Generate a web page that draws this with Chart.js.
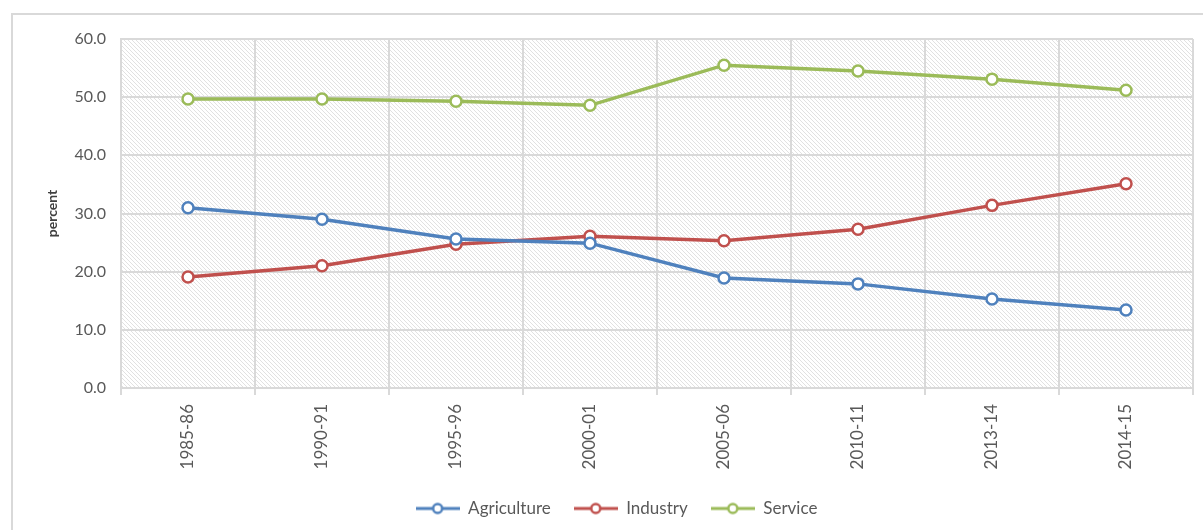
<!DOCTYPE html>
<html>
<head>
<meta charset="utf-8">
<script src="https://cdn.jsdelivr.net/npm/chart.js@4"></script>
<style>
  html, body { margin: 0; padding: 0; background: #fff; }
  #wrap { width: 1203px; height: 530px; }
</style>
</head>
<body>
<div id="wrap"><canvas id="sectorChart" width="1203" height="530"></canvas></div>
<script>
// Données
const periods = ["1985-86", "1990-91", "1995-96", "2000-01", "2005-06", "2010-11", "2013-14", "2014-15"];
const agriculture = [31.0, 29.0, 25.6, 24.9, 18.9, 17.9, 15.3, 13.4];
const industry = [19.1, 21.0, 24.7, 26.1, 25.3, 27.3, 31.4, 35.1];
const service = [49.7, 49.7, 49.3, 48.6, 55.5, 54.5, 53.1, 51.2];
const yTicks = [0, 10, 20, 30, 40, 50, 60];

const FONT = "Lato, 'Open Sans', sans-serif";

// motif hachuré du fond
function hatch() {
    const c = document.createElement("canvas");
    c.width = 4; c.height = 4;
    const g = c.getContext("2d");
    g.strokeStyle = "#e1e1e1";
    g.lineWidth = 1;
    g.beginPath();
    g.moveTo(-1, -1); g.lineTo(5, 5);
    g.moveTo(-1, 3); g.lineTo(1, 5);
    g.moveTo(3, -1); g.lineTo(5, 1);
    g.stroke();
    return g.createPattern(c, "repeat");
}

// icône de légende : trait + rond
function legendIcon(color) {
    const c = document.createElement("canvas");
    c.width = 44; c.height = 14;
    const g = c.getContext("2d");
    g.strokeStyle = color;
    g.lineWidth = 3;
    g.beginPath(); g.moveTo(0, 7); g.lineTo(44, 7); g.stroke();
    g.fillStyle = "#fff";
    g.lineWidth = 2.5;
    g.beginPath(); g.arc(22, 7, 4.5, 0, Math.PI * 2); g.fill(); g.stroke();
    return c;
}

const colors = ["#4F81BD", "#C0504D", "#9BBB59"];

const bgPlugin = {
    id: "bg",
    beforeDraw(chart) {
        const { ctx, chartArea: a } = chart;
        ctx.save();
        ctx.strokeStyle = "#d9d9d9";
        ctx.lineWidth = 2;
        ctx.strokeRect(12, 14, 1300, 600);
        ctx.fillStyle = hatch();
        ctx.fillRect(a.left, a.top, a.right - a.left, a.bottom - a.top);
        ctx.restore();
    }
};

function ds(label, data, i) {
    return {
        label: label,
        data: data,
        borderColor: colors[i],
        backgroundColor: "#fff",
        borderWidth: 3.5,
        pointRadius: 5.5,
        pointBorderWidth: 2.5,
        pointBackgroundColor: "#fff",
        pointStyle: "circle",
        tension: 0
    };
}

const icons = colors.map(legendIcon);

new Chart(document.getElementById("sectorChart"), {
    type: "line",
    data: {
        labels: periods,
        datasets: [ds("Agriculture", agriculture, 0), ds("Industry", industry, 1), ds("Service", service, 2)]
    },
    options: {
        responsive: false,
        animation: false,
        layout: { padding: { left: 40, top: 39, right: 10, bottom: 3 } },
        plugins: {
            tooltip: { enabled: false },
            legend: {
                position: "bottom",
                labels: {
                    color: "#595959",
                    font: { family: FONT, size: 17 },
                    usePointStyle: true,
                    pointStyleWidth: 44,
                    padding: 23,
                    generateLabels(chart) {
                        return chart.data.datasets.map((d, i) => ({
                            text: d.label,
                            fontColor: "#595959",
                            pointStyle: icons[i],
                            datasetIndex: i,
                            lineWidth: 0,
                            hidden: false
                        }));
                    }
                }
            }
        },
        scales: {
            x: {
                offset: true,
                grid: { offset: true, color: "#d9d9d9", lineWidth: 2, tickLength: 7, drawTicks: true },
                border: { color: "#d9d9d9", width: 2 },
                ticks: {
                    color: "#595959",
                    font: { family: FONT, size: 17 },
                    minRotation: 90,
                    maxRotation: 90,
                    padding: 9
                },
                afterFit(s) { s.height = 89; }
            },
            y: {
                min: 0,
                max: 60,
                afterBuildTicks(s) { s.ticks = yTicks.map(v => ({ value: v })); },
                grid: { color: "#d9d9d9", lineWidth: 2, drawTicks: false },
                border: { color: "#d9d9d9", width: 2 },
                ticks: {
                    color: "#595959",
                    font: { family: FONT, size: 16 },
                    padding: 15,
                    callback: v => v.toFixed(1)
                },
                title: {
                    display: true,
                    text: "percent",
                    color: "#404040",
                    font: { family: FONT, size: 14, weight: "bold" },
                    padding: { top: 4, bottom: 0 }
                },
                afterFit(s) { s.width = 81; }
            }
        }
    },
    plugins: [bgPlugin]
});
</script>
</body>
</html>
